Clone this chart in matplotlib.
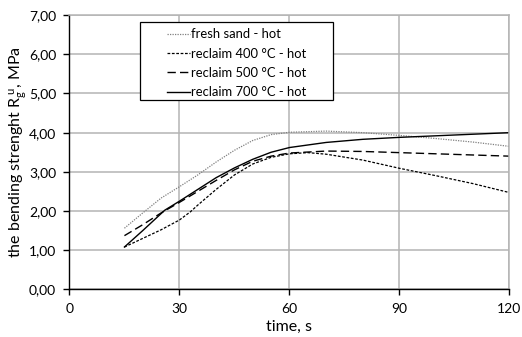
import matplotlib.pyplot as plt
from matplotlib.patches import Rectangle
from matplotlib.ticker import FuncFormatter

plt.rcParams['font.family'] = ['Lato', 'DejaVu Sans']
plt.rcParams['mathtext.fontset'] = 'custom'
plt.rcParams['mathtext.rm'] = 'Lato'
plt.rcParams['mathtext.it'] = 'Lato'

# values (time in s, strength in MPa)
t_fresh = [15, 20, 25, 30, 35, 40, 45, 50, 55, 60, 70, 80, 90, 100, 110, 120]
fresh = [1.56, 1.95, 2.33, 2.62, 2.92, 3.25, 3.55, 3.80, 3.95, 4.01, 4.04, 4.00, 3.93, 3.85, 3.76, 3.65]

t_400 = [15, 20, 25, 30, 33, 35, 40, 45, 50, 55, 60, 65, 70, 80, 90, 100, 110, 120]
rec_400 = [1.08, 1.30, 1.52, 1.77, 1.98, 2.15, 2.55, 2.92, 3.20, 3.37, 3.46, 3.49, 3.45, 3.30, 3.09, 2.90, 2.70, 2.47]

t_500 = [15, 20, 25, 30, 35, 40, 45, 50, 55, 60, 70, 80, 90, 100, 110, 120]
rec_500 = [1.37, 1.65, 1.95, 2.22, 2.50, 2.78, 3.05, 3.27, 3.40, 3.48, 3.53, 3.52, 3.49, 3.46, 3.43, 3.40]

t_700 = [15, 20, 26, 30, 35, 40, 45, 50, 55, 60, 70, 80, 90, 100, 110, 120]
rec_700 = [1.08, 1.50, 2.02, 2.25, 2.55, 2.85, 3.10, 3.32, 3.50, 3.62, 3.75, 3.83, 3.88, 3.92, 3.96, 4.00]

labels = ['fresh sand - hot', 'reclaim 400 °C - hot', 'reclaim 500 °C - hot', 'reclaim 700 °C - hot']

fig = plt.figure(figsize=(5.22, 3.37), dpi=100)
ax = fig.add_axes([0.133, 0.1415, 0.843, 0.8135])

ax.plot(t_fresh, fresh, color='#808080', ls=(0, (1, 1)), lw=0.9, label=labels[0])
ax.plot(t_400, rec_400, color='black', ls=(0, (2.2, 1.3)), lw=0.9, label=labels[1])
ax.plot(t_500, rec_500, color='black', ls=(0, (6, 3)), lw=1.0, label=labels[2])
ax.plot(t_700, rec_700, color='black', ls='-', lw=1.0, label=labels[3])

ax.set_xlim(0, 120)
ax.set_ylim(0, 7)
ax.set_xticks([0, 30, 60, 90, 120])
ax.set_yticks(range(8))
ax.yaxis.set_major_formatter(FuncFormatter(lambda v, p: f'{v:.2f}'.replace('.', ',')))
ax.grid(True, color='#b4b4b4', lw=1.1)
ax.set_axisbelow(True)
for s in ['top', 'right']:
    ax.spines[s].set_color('#b4b4b4')
    ax.spines[s].set_linewidth(1.1)
for s in ['left', 'bottom']:
    ax.spines[s].set_linewidth(1.0)
ax.tick_params(direction='out', length=4.5, width=1, labelsize=10, colors='black')
ax.tick_params(axis='y', pad=5)
ax.tick_params(axis='x', pad=5)

ax.set_xlabel('time, s', fontsize=11.5, labelpad=4)
ax.set_ylabel(r'the bending strenght R$_{\mathrm{g}}^{\ \mathrm{u}}$, MPa', fontsize=11.5, labelpad=0)

# legend box drawn separately so the handles sit inside like in the original
ax.add_patch(Rectangle((0.160, 0.690), 0.439, 0.284, transform=ax.transAxes,
                       facecolor='white', edgecolor='black', lw=0.9, zorder=4))
leg = ax.legend(loc='upper left', bbox_to_anchor=(0.221, 0.952), fontsize=9.4, handlelength=1.8,
                handletextpad=0.1, labelspacing=0.56, borderpad=0, borderaxespad=0,
                frameon=False)
leg.set_zorder(5)

fig.savefig('out.png', dpi=100)
